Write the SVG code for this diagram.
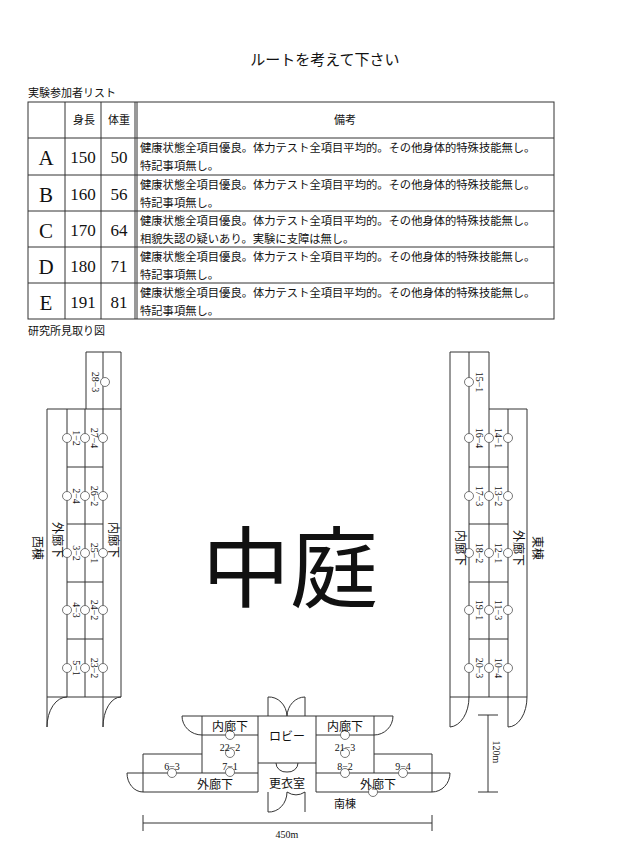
<svg xmlns="http://www.w3.org/2000/svg" width="633" height="841" viewBox="0 0 633 841">
<style>
text{font-family:"Liberation Serif","Noto Sans CJK JP",serif;fill:#111}
.j{font-family:"Noto Sans CJK JP",sans-serif}
.l{fill:none;stroke:#333;stroke-width:1}
.c{fill:#fff;stroke:#555;stroke-width:0.8}
.s{font-size:10px;text-anchor:middle}
.m{font-size:12px;text-anchor:middle}
.n{font-size:11.3px}
</style>
<rect width="633" height="841" fill="#fff"/>
<text x="325" y="65" class="j" font-size="15" text-anchor="middle">ルートを考えて下さい</text>
<text x="28" y="97" class="j" font-size="11">実験参加者リスト</text>
<text x="28" y="335" class="j" font-size="11">研究所見取り図</text>
<g id="table">
<rect x="28" y="102" width="526" height="217" class="l"/>
<path class="l" d="M65 102V319M101 102V319M137 102V319M135 102V319M28 138H554M28 175H554M28 211H554M28 247H554M28 283H554"/>
<text x="84" y="124" class="j" font-size="11" text-anchor="middle">身長</text>
<text x="119" y="124" class="j" font-size="11" text-anchor="middle">体重</text>
<text x="345" y="124" class="j" font-size="11" text-anchor="middle">備考</text>
<g font-size="21" text-anchor="middle">
<text x="46" y="165">A</text><text x="46" y="202">B</text><text x="46" y="238">C</text><text x="46" y="274">D</text><text x="46" y="310">E</text>
</g>
<g font-size="17" text-anchor="middle">
<text x="83" y="163">150</text><text x="119" y="163">50</text>
<text x="83" y="200">160</text><text x="119" y="200">56</text>
<text x="83" y="236">170</text><text x="119" y="236">64</text>
<text x="83" y="272">180</text><text x="119" y="272">71</text>
<text x="83" y="308">191</text><text x="119" y="308">81</text>
</g>
<g class="n j">
<text x="140" y="152">健康状態全項目優良。体力テスト全項目平均的。その他身体的特殊技能無し。</text>
<text x="140" y="170">特記事項無し。</text>
<text x="140" y="189">健康状態全項目優良。体力テスト全項目平均的。その他身体的特殊技能無し。</text>
<text x="140" y="207">特記事項無し。</text>
<text x="140" y="225">健康状態全項目優良。体力テスト全項目平均的。その他身体的特殊技能無し。</text>
<text x="140" y="243">相貌失認の疑いあり。実験に支障は無し。</text>
<text x="140" y="261">健康状態全項目優良。体力テスト全項目平均的。その他身体的特殊技能無し。</text>
<text x="140" y="279">特記事項無し。</text>
<text x="140" y="297">健康状態全項目優良。体力テスト全項目平均的。その他身体的特殊技能無し。</text>
<text x="140" y="315">特記事項無し。</text>
</g>
</g>
<text x="290" y="600" class="j" font-size="88" text-anchor="middle">中庭</text>
<g id="west">
<path class="l" d="M86 409V352H121V697M103 352V697M47 697V409H121M67 409V697M85 409V697M67 467H103M67 524H103M67 582H103M67 639H103M47 697H121"/>
<path class="l" d="M47 697V727A20 30 0 0 1 67 697M103 697V727A18 30 0 0 1 121 697" />
<g class="c"><circle cx="105" cy="382" r="4.5"/>
<circle cx="67" cy="438" r="4.5"/><circle cx="85" cy="438" r="4.5"/><circle cx="103" cy="438" r="4.5"/>
<circle cx="67" cy="496" r="4.5"/><circle cx="85" cy="496" r="4.5"/><circle cx="103" cy="496" r="4.5"/>
<circle cx="67" cy="553" r="4.5"/><circle cx="85" cy="553" r="4.5"/><circle cx="103" cy="553" r="4.5"/>
<circle cx="67" cy="610" r="4.5"/><circle cx="85" cy="610" r="4.5"/><circle cx="103" cy="610" r="4.5"/>
<circle cx="67" cy="668" r="4.5"/><circle cx="85" cy="668" r="4.5"/><circle cx="103" cy="668" r="4.5"/></g>
<g class="s">
<text transform="translate(95 382) rotate(90)" y="3">28−3</text>
<text transform="translate(76 438) rotate(90)" y="3">1−2</text><text transform="translate(94 438) rotate(90)" y="3">27−4</text>
<text transform="translate(76 496) rotate(90)" y="3">2−4</text><text transform="translate(94 496) rotate(90)" y="3">26−2</text>
<text transform="translate(76 553) rotate(90)" y="3">3−2</text><text transform="translate(94 553) rotate(90)" y="3">25−1</text>
<text transform="translate(76 610) rotate(90)" y="3">4−3</text><text transform="translate(94 610) rotate(90)" y="3">24−2</text>
<text transform="translate(76 668) rotate(90)" y="3">5−1</text><text transform="translate(94 668) rotate(90)" y="3">23−2</text>
</g>
<g class="j" font-size="12" text-anchor="middle">
<text transform="translate(57 540) rotate(90)" y="4">外廊下</text>
<text transform="translate(113 540) rotate(90)" y="4">内廊下</text>
<text transform="translate(37 548) rotate(90)" y="4">西棟</text>
</g>
</g>
<g id="east">
<path class="l" d="M450 697V352H489V697M469 352V697M489 409H527V697H450M508 409V697M469 467H508M469 524H508M469 582H508M469 639H508"/>
<path class="l" d="M450 697V727A20 30 0 0 0 469 697M508 697V727A19 30 0 0 0 527 697"/>
<g class="c"><circle cx="469" cy="382" r="4.5"/>
<circle cx="469" cy="438" r="4.5"/><circle cx="489" cy="438" r="4.5"/><circle cx="508" cy="438" r="4.5"/>
<circle cx="469" cy="496" r="4.5"/><circle cx="489" cy="496" r="4.5"/><circle cx="508" cy="496" r="4.5"/>
<circle cx="469" cy="553" r="4.5"/><circle cx="489" cy="553" r="4.5"/><circle cx="508" cy="553" r="4.5"/>
<circle cx="469" cy="610" r="4.5"/><circle cx="489" cy="610" r="4.5"/><circle cx="508" cy="610" r="4.5"/>
<circle cx="469" cy="668" r="4.5"/><circle cx="489" cy="668" r="4.5"/><circle cx="508" cy="668" r="4.5"/></g>
<g class="s">
<text transform="translate(479 382) rotate(90)" y="3">15−1</text>
<text transform="translate(479 438) rotate(90)" y="3">16−4</text><text transform="translate(498 438) rotate(90)" y="3">14−1</text>
<text transform="translate(479 496) rotate(90)" y="3">17−3</text><text transform="translate(498 496) rotate(90)" y="3">13−2</text>
<text transform="translate(479 553) rotate(90)" y="3">18−2</text><text transform="translate(498 553) rotate(90)" y="3">12−1</text>
<text transform="translate(479 610) rotate(90)" y="3">19−1</text><text transform="translate(498 610) rotate(90)" y="3">11−3</text>
<text transform="translate(479 668) rotate(90)" y="3">20−3</text><text transform="translate(498 668) rotate(90)" y="3">10−4</text>
</g>
<g class="j" font-size="12" text-anchor="middle">
<text transform="translate(460 548) rotate(90)" y="4">内廊下</text>
<text transform="translate(518 548) rotate(90)" y="4">外廊下</text>
<text transform="translate(537 548) rotate(90)" y="4">東棟</text>
</g>
</g>
<g id="south">
<path class="l" d="M143 754H202V716H258V792H143ZM143 773H258M202 735H258M202 754V773M258 716H316V792M258 763H316M316 716H374V754H432V792H316M316 735H374M374 754V773M316 773H432"/>
<path class="l" d="M268 716V697A18 20 0 0 1 287 716A18 20 0 0 1 305 697V716M268 792V812A18 20 0 0 0 287 792A18 20 0 0 0 305 792V812M276 763A10 9 0 0 0 287 772A10 9 0 0 0 298 763M202 716H182A20 19 0 0 0 202 735M374 716H393A19 19 0 0 1 374 735M143 773H127A16 19 0 0 0 143 792M432 773H450A18 19 0 0 1 432 792"/>
<g class="c">
<circle cx="230" cy="735" r="4.5"/><circle cx="230" cy="753" r="4.5"/><circle cx="230" cy="772" r="4.5"/><circle cx="172" cy="773" r="4.5"/>
<circle cx="345" cy="735" r="4.5"/><circle cx="345" cy="753" r="4.5"/><circle cx="345" cy="773" r="4.5"/><circle cx="403" cy="773" r="4.5"/><circle cx="373" cy="792" r="4.5"/>
</g>
<g class="s">
<text x="230" y="751">22−2</text><text x="230" y="770">7−1</text><text x="172" y="770">6−3</text>
<text x="345" y="751">21−3</text><text x="345" y="770">8−2</text><text x="403" y="770">9−4</text>
</g>
<g class="m j">
<text x="230" y="731">内廊下</text><text x="345" y="731">内廊下</text>
<text x="287" y="741">ロビー</text><text x="287" y="788">更衣室</text>
<text x="215" y="789">外廊下</text><text x="378" y="789">外廊下</text>
<text x="345" y="808" font-size="11">南棟</text>
</g>
</g>
<g id="dims">
<path class="l" d="M143 823H432M143 815V831M432 815V831M488 715V792M478 715H498M478 792H498"/>
<text x="287" y="838" class="s" font-size="11">450m</text>
<text transform="translate(497 752) rotate(90)" y="4" class="s" font-size="11">120m</text>
</g>
</svg>
